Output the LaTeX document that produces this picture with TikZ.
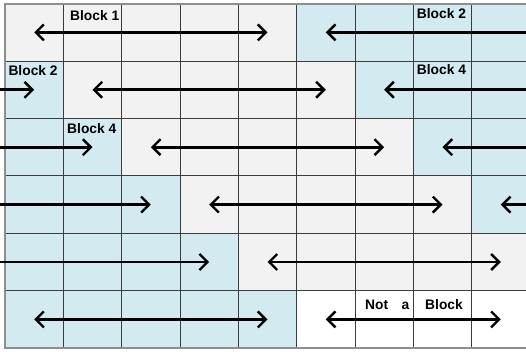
\documentclass[tikz,border=0pt]{standalone}
\usepackage{fontspec}
\setmainfont{Liberation Sans}
\usetikzlibrary{arrows.meta}

\definecolor{cellgray}{HTML}{F2F2F2}
\definecolor{cellblue}{HTML}{D3EAF0}
\definecolor{gridline}{HTML}{3C3C3C}
\definecolor{frameline}{HTML}{8E8E8E}

\tikzset{
  grayfill/.style={fill=cellgray},
  bluefill/.style={fill=cellblue},
  whitefill/.style={fill=white},
  gridstroke/.style={draw=gridline, line width=0.9pt},
  framestroke/.style={draw=frameline, line width=2pt},
  barb/.tip={Straight Barb[length=8pt,width=16pt,line width=2.4pt]},
  span/.style={draw=black, line width=2.6pt, arrows={barb-barb}},
  oneway/.style={draw=black, line width=2.6pt, arrows={-barb}},
  tag/.style={inner sep=0pt, anchor=base west, font=\bfseries\fontsize{13.8pt}{15pt}\selectfont}
}

\begin{document}
\begin{tikzpicture}[x=58.333pt, y=-57.4pt]
  \useasboundingbox (-0.0857,-0.0645) rectangle (8.9314,6.0679);
  \clip (-0.0857,-0.0645) rectangle (8.9314,6.0679);

  % cell shading, row by row
  \fill[grayfill] (0,0) rectangle (5,1);
  \fill[bluefill] (5,0) rectangle (9.2,1);
  \fill[bluefill] (0,1) rectangle (1,2);
  \fill[grayfill] (1,1) rectangle (6,2);
  \fill[bluefill] (6,1) rectangle (9.2,2);
  \fill[bluefill] (0,2) rectangle (2,3);
  \fill[grayfill] (2,2) rectangle (7,3);
  \fill[bluefill] (7,2) rectangle (9.2,3);
  \fill[bluefill] (0,3) rectangle (3,4);
  \fill[grayfill] (3,3) rectangle (8,4);
  \fill[bluefill] (8,3) rectangle (9.2,4);
  \fill[bluefill] (0,4) rectangle (4,5);
  \fill[grayfill] (4,4) rectangle (9.2,5);
  \fill[bluefill] (0,5) rectangle (5,6);
  \fill[whitefill] (5,5) rectangle (9.2,6);

  % inner grid
  \foreach \c in {1,...,9} \draw[gridstroke] (\c,0) -- (\c,6);
  \foreach \r in {1,...,5} \draw[gridstroke] (0,\r) -- (9.2,\r);

  % outer frame (top, left, bottom)
  \draw[framestroke] (9.2,0) -- (0,0) -- (0,6) -- (9.2,6);

  % anchor points: cell centres and free ends at both sides
  \foreach \r in {1,...,6}{
    \foreach \c in {1,...,9}{
      \coordinate (p-\r-\c) at (\c-0.5,\r-0.5);
    }
    \coordinate (L-\r) at (-0.09,\r-0.5);
    \coordinate (R-\r) at (9.2,\r-0.5);
  }

  % row 1
  \draw[span] (p-1-1) -- (p-1-5);
  \draw[oneway] (R-1) -- (p-1-6);
  % row 2
  \draw[oneway] (L-2) -- (p-2-1);
  \draw[span] (p-2-2) -- (p-2-6);
  \draw[oneway] (R-2) -- (p-2-7);
  % row 3
  \draw[oneway] (L-3) -- (p-3-2);
  \draw[span] (p-3-3) -- (p-3-7);
  \draw[oneway] (R-3) -- (p-3-8);
  % row 4
  \draw[oneway] (L-4) -- (p-4-3);
  \draw[span] (p-4-4) -- (p-4-8);
  \draw[oneway] (R-4) -- (p-4-9);
  % row 5
  \draw[oneway] (L-5) -- (p-5-4);
  \draw[span] (p-5-5) -- (p-5-9);
  % row 6
  \draw[span] (p-6-1) -- (p-6-5);
  \draw[span] (p-6-6) -- (p-6-9);

  % labels
  \node[tag] (b1)  at (1.114,0.296) {Block 1};
  \node[tag] (b2a) at (7.058,0.254) {Block 2};
  \node[tag] (b2b) at (0.057,1.254) {Block 2};
  \node[tag] (b4a) at (7.058,1.242) {Block 4};
  \node[tag] (b4b) at (1.063,2.270) {Block 4};
  \node[tag] (n1)  at (6.172,5.336) {Not};
  \node[tag] (n2)  at (6.796,5.336) {a};
  \node[tag] (n3)  at (7.200,5.336) {Block};
\end{tikzpicture}
\end{document}
